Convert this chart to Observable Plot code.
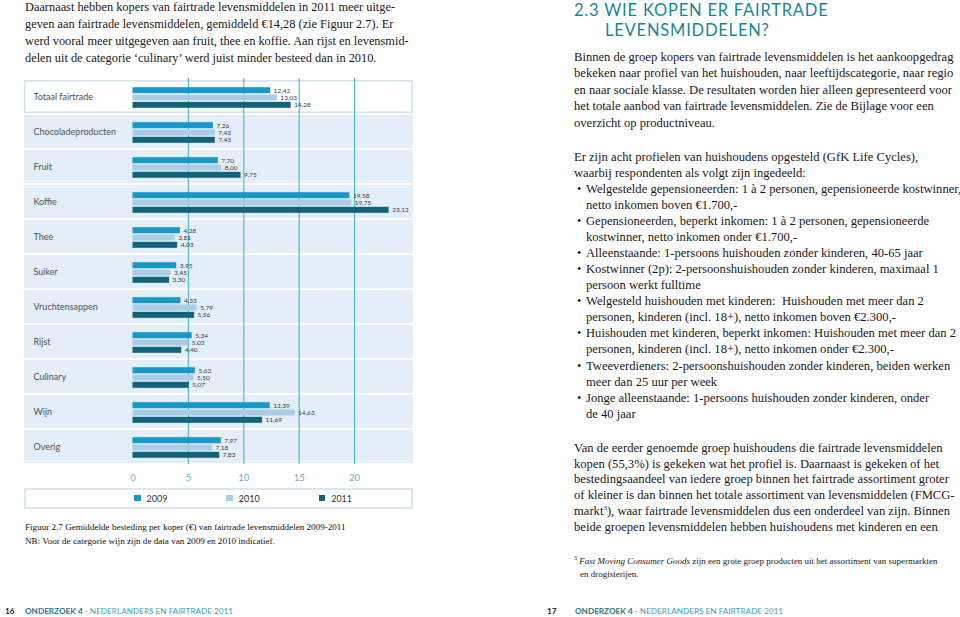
<!DOCTYPE html>
<html lang="nl">
<head>
<meta charset="utf-8">
<script src="https://cdn.jsdelivr.net/npm/d3@7"></script>
<script src="https://cdn.jsdelivr.net/npm/@observablehq/plot@0.6"></script>
<style>
  html, body { margin: 0; padding: 0; background: #fff; }
  body { width: 960px; height: 617px; position: relative; overflow: hidden; }
  .serif { font-family: "Liberation Serif", "Times New Roman", serif; color: #1a1819; }
  .para { position: absolute; font-size: 12.6px; white-space: nowrap; }
  .head { position: absolute; margin: 0; font-family: Lato, sans-serif; font-weight: 400;
       font-size: 16.5px; line-height: normal; letter-spacing: 0.8px; color: #1a8597; white-space: nowrap; }
  ul { list-style: none; margin: 0; padding: 0; }
  li { position: relative; padding-left: 12px; }
  li::before { content: "•"; position: absolute; left: 3px; }
  #chart { position: absolute; left: 24px; top: 77.5px; }
  #legend { position: absolute; left: 24px; top: 487.5px; width: 389px; height: 21px; box-sizing: border-box;
            border: 2px solid #dbe8f2; background: #fff; display: flex; align-items: center; padding-left: 108px; }
  #legend .item { width: 94px; display: flex; align-items: center; font-family: Lato, sans-serif; font-size: 9px; color: #333; }
  #legend .sw { width: 6.5px; height: 6.5px; margin-right: 6px; }
  .caption { position: absolute; left: 25px; top: 520px; font-size: 9.1px; line-height: 14px; white-space: nowrap; color: #111; }
  .footnote { position: absolute; left: 574px; top: 554.5px; font-size: 9px; line-height: 13px; white-space: nowrap; }
  .footer { position: absolute; top: 605px; font-family: Lato, sans-serif; font-size: 8.2px; line-height: 12px; white-space: nowrap; }
  .footer .pg { font-weight: 700; color: #222; position: absolute; }
  .footer .t1 { font-weight: 700; color: #1d7b8b; }
  .footer .t2 { color: #3ea3b3; }
</style>
</head>
<body>

<div class="para serif" style="left:25px; top:-1.5px; line-height:17px; font-size:12.35px;">
Daarnaast hebben kopers van fairtrade levensmiddelen in 2011 meer uitge-<br>
geven aan fairtrade levensmiddelen, gemiddeld €14,28 (zie Figuur 2.7). Er<br>
werd vooral meer uitgegeven aan fruit, thee en koffie. Aan rijst en levensmid-<br>
delen uit de categorie ‘culinary’ werd juist minder besteed dan in 2010.
</div>

<div id="chart"></div>
<div id="legend"></div>

<div class="caption serif">
Figuur 2.7 Gemiddelde besteding per koper (€) van fairtrade levensmiddelen 2009-2011<br>
NB: Voor de categorie wijn zijn de data van 2009 en 2010 indicatief.
</div>

<div class="head" style="left:574px; top:0px;">2.3 WIE KOPEN ER FAIRTRADE</div>
<div class="head" style="left:605px; top:19.8px;">LEVENSMIDDELEN?</div>

<div class="para serif" style="left:574px; top:48.5px; line-height:16.5px;">
Binnen de groep kopers van fairtrade levensmiddelen is het aankoopgedrag<br>
bekeken naar profiel van het huishouden, naar leeftijdscategorie, naar regio<br>
en naar sociale klasse. De resultaten worden hier alleen gepresenteerd voor<br>
het totale aanbod van fairtrade levensmiddelen. Zie de Bijlage voor een<br>
overzicht op productniveau.
</div>

<div class="para serif" style="left:574px; top:148.7px; line-height:16.06px;">
Er zijn acht profielen van huishoudens opgesteld (GfK Life Cycles),<br>
waarbij respondenten als volgt zijn ingedeeld:
<ul>
<li>Welgestelde gepensioneerden: 1 à 2 personen, gepensioneerde kostwinner,<br>netto inkomen boven €1.700,-</li>
<li>Gepensioneerden, beperkt inkomen: 1 à 2 personen, gepensioneerde<br>kostwinner, netto inkomen onder €1.700,-</li>
<li>Alleenstaande: 1-persoons huishouden zonder kinderen, 40-65 jaar</li>
<li>Kostwinner (2p): 2-persoonshuishouden zonder kinderen, maximaal 1<br>persoon werkt fulltime</li>
<li>Welgesteld huishouden met kinderen:&nbsp; Huishouden met meer dan 2<br>personen, kinderen (incl. 18+), netto inkomen boven €2.300,-</li>
<li>Huishouden met kinderen, beperkt inkomen: Huishouden met meer dan 2<br>personen, kinderen (incl. 18+), netto inkomen onder €2.300,-</li>
<li>Tweeverdieners: 2-persoonshuishouden zonder kinderen, beiden werken<br>meer dan 25 uur per week</li>
<li>Jonge alleenstaande: 1-persoons huishouden zonder kinderen, onder<br>de 40 jaar</li>
</ul>
</div>

<div class="para serif" style="left:574px; top:440.8px; line-height:15.8px;">
Van de eerder genoemde groep huishoudens die fairtrade levensmiddelen<br>
kopen (55,3%) is gekeken wat het profiel is. Daarnaast is gekeken of het<br>
bestedingsaandeel van iedere groep binnen het fairtrade assortiment groter<br>
of kleiner is dan binnen het totale assortiment van levensmiddelen (FMCG-<br>
markt<sup style="font-size:7px; line-height:0">3</sup>), waar fairtrade levensmiddelen dus een onderdeel van zijn. Binnen<br>
beide groepen levensmiddelen hebben huishoudens met kinderen en een
</div>

<div class="footnote serif">
<sup style="font-size:6px; line-height:0">3</sup> <i>Fast Moving Consumer Goods</i> zijn een grote groep producten uit het assortiment van supermarkten<br>
<span style="padding-left:6px">en drogisterijen.</span>
</div>

<div class="footer" style="left:0;"><span class="pg" style="left:5px;">16</span><span style="position:absolute; left:25px;"><span class="t1">ONDERZOEK 4</span><span class="t2"> - NEDERLANDERS EN FAIRTRADE 2011</span></span></div>
<div class="footer" style="left:0;"><span class="pg" style="left:547px;">17</span><span style="position:absolute; left:575px;"><span class="t1">ONDERZOEK 4</span><span class="t2"> - NEDERLANDERS EN FAIRTRADE 2011</span></span></div>

<script>
// ---- data ----
const categories = ["Totaal fairtrade", "Chocoladeproducten", "Fruit", "Koffie", "Thee", "Suiker",
  "Vruchtensappen", "Rijst", "Culinary", "Wijn", "Overig"];
const years = ["2009", "2010", "2011"];
const values2009 = [12.42, 7.26, 7.70, 19.58, 4.28, 3.95, 4.33, 5.34, 5.63, 12.39, 7.97];
const values2010 = [13.03, 7.43, 8.00, 19.75, 3.81, 3.45, 5.79, 5.03, 5.50, 14.63, 7.18];
const values2011 = [14.28, 7.43, 9.75, 23.12, 4.03, 3.30, 5.56, 4.40, 5.07, 11.69, 7.83];
const xTicks = [0, 5, 10, 15, 20];

// ---- styles ----
const yearColors = ["#1898c8", "#a9cde6", "#13637b"];
const rowFill = "#e3eef8";
const boxStroke = "#d3e4f0";
const gridColor = "#4cb1c1";

const series = [values2009, values2010, values2011];
const fmt = v => v.toFixed(2).replace(".", ",");

// ---- layout ----
const width = 389, frameH = 386, marginLeft = 108.5, marginRight = 3.5, marginBottom = 20;
const pInner = 0.0625;
const bw = frameH / (categories.length - pInner) * (1 - pInner);
const barH = 6.1, barTop0 = 7.2, barStep = 7.3;

const marks = [
  Plot.cell(categories.slice(1), {y: d => d, fill: rowFill, insetLeft: -marginLeft, insetRight: -marginRight}),
  Plot.cell(categories.slice(0, 1), {y: d => d, fill: "#fff", stroke: boxStroke, strokeWidth: 1.6,
    insetLeft: -marginLeft + 0.8, insetRight: -marginRight + 0.8, insetTop: 0.8, insetBottom: 0.8}),
  Plot.ruleX(xTicks.filter(t => t > 0), {stroke: gridColor, strokeWidth: 1.1})
];

years.forEach((yr, i) => {
  const data = categories.map((c, j) => ({category: c, value: series[i][j]}));
  const top = barTop0 + barStep * i;
  marks.push(Plot.barX(data, {x: "value", y: "category", fill: yearColors[i],
    insetTop: top, insetBottom: bw - top - barH}));
  marks.push(Plot.text(data, {x: "value", y: "category", text: d => fmt(d.value),
    dx: 3, dy: top + barH / 2 - bw / 2, textAnchor: "start", fill: "#3a3a3a",
    fontSize: 6.5, fontFamily: "Lato, sans-serif"}));
});

marks.push(Plot.text(categories, {y: d => d, text: d => d, frameAnchor: "left", dx: -99.5,
  textAnchor: "start", fill: "#505050", fontSize: 9, fontFamily: "Lato, sans-serif"}));

const chart = Plot.plot({
  width,
  height: frameH + marginBottom,
  marginTop: 0, marginBottom, marginLeft, marginRight,
  style: {color: "#5ab5c5", fontFamily: "Lato, sans-serif", fontSize: "9.5px", background: "transparent", overflow: "visible"},
  x: {domain: [0, 25], ticks: xTicks, tickSize: 0, tickPadding: 9.6, label: null, tickFormat: d => String(d)},
  y: {domain: categories, axis: null, paddingInner: pInner, paddingOuter: 0},
  marks
});
document.getElementById("chart").appendChild(chart);

// ---- legend ----
const legend = document.getElementById("legend");
years.forEach((yr, i) => {
  const item = document.createElement("div");
  item.className = "item";
  const sw = document.createElement("span");
  sw.className = "sw";
  sw.style.background = yearColors[i];
  item.appendChild(sw);
  item.appendChild(document.createTextNode(yr));
  legend.appendChild(item);
});
</script>
</body>
</html>
